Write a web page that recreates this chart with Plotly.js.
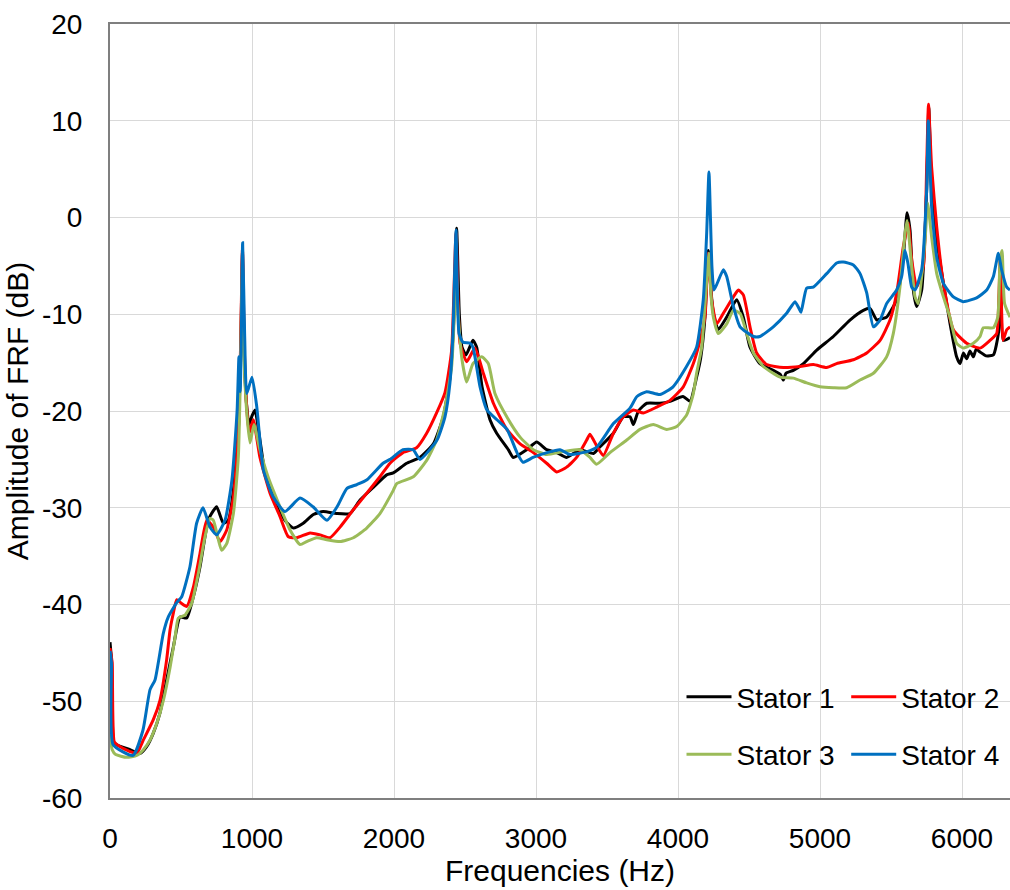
<!DOCTYPE html>
<html>
<head>
<meta charset="utf-8">
<script src="https://cdn.plot.ly/plotly-3.0.1.min.js"></script>
<style>
  html, body { margin: 0; padding: 0; background: #ffffff; }
  #chart { width: 1010px; height: 890px; }
</style>
</head>
<body>
<div id="chart"></div>
<script>
// ---- Data ----
const seriesNames = ["Stator 1", "Stator 2", "Stator 3", "Stator 4"];
const seriesColors = ["#000000", "#FF0000", "#9BBB59", "#0070C0"];

const stator1Freq = [0, 12, 25, 47, 141, 211, 258, 305, 352, 399, 446, 493, 540, 587, 634, 681, 704, 751, 798, 833, 869, 904, 920, 933, 945, 960, 979, 1000, 1021, 1056, 1092, 1150, 1232, 1291, 1361, 1432, 1502, 1596, 1690, 1761, 1854, 1948, 1995, 2089, 2183, 2277, 2347, 2394, 2422, 2441, 2460, 2479, 2507, 2556, 2582, 2620, 2676, 2723, 2805, 2840, 2934, 3005, 3075, 3146, 3216, 3310, 3404, 3451, 3545, 3615, 3662, 3686, 3721, 3780, 3873, 3944, 4035, 4085, 4131, 4160, 4190, 4213, 4235, 4249, 4283, 4343, 4413, 4460, 4507, 4577, 4671, 4720, 4742, 4760, 4812, 4883, 4977, 5094, 5211, 5305, 5352, 5399, 5423, 5469, 5540, 5587, 5613, 5634, 5657, 5681, 5716, 5751, 5766, 5786, 5822, 5869, 5915, 5962, 5986, 6010, 6033, 6056, 6080, 6100, 6127, 6170, 6221, 6256, 6272, 6291, 6338];
const stator1Amp = [-43.9, -46, -54.2, -54.5, -55, -55.4, -54.7, -53.3, -51.2, -47.8, -44.4, -41.3, -41.4, -39.2, -36.1, -32, -30.9, -29.9, -31.6, -31.3, -28.2, -22, -14, -3.4, -14, -19, -21.4, -20.5, -19.9, -23, -26.4, -28.9, -31.3, -32.1, -31.6, -30.7, -30.4, -30.6, -30.6, -29.2, -27.9, -26.6, -26.4, -25.4, -24.8, -23.4, -20.6, -16.5, -10.3, -1.1, -10, -13.4, -14.2, -12.7, -13.4, -17.5, -20.9, -22.3, -24, -24.8, -24, -23.2, -24, -24.3, -24.8, -24, -24.4, -23.7, -22.3, -20.6, -20.6, -21.4, -20, -19.2, -19.2, -19, -18.5, -19, -16.5, -14.5, -10.3, -3.4, -8, -9.9, -11.6, -10.3, -8.5, -10.3, -13.4, -15.1, -15.8, -16.2, -16.8, -16.1, -15.8, -15.1, -13.7, -12.3, -10.6, -9.6, -9.4, -10.6, -10.5, -10.3, -8.5, -4, 0.5, -1.3, -7.5, -9.2, -7.5, 2.8, 11.4, 2.8, -2.3, -6.8, -10.9, -14.4, -15.1, -14, -14.6, -13.8, -14.4, -13.6, -13.9, -14.3, -14.2, -12, -6.1, -12.7, -12.4];

const stator2Freq = [0, 15, 30, 60, 141, 188, 235, 305, 352, 399, 423, 446, 470, 505, 540, 587, 634, 681, 728, 775, 822, 869, 904, 920, 933, 945, 960, 980, 1009, 1056, 1127, 1197, 1256, 1315, 1409, 1479, 1549, 1620, 1714, 1808, 1901, 1972, 2063, 2159, 2230, 2300, 2359, 2406, 2437, 2465, 2512, 2570, 2629, 2700, 2794, 2888, 2981, 3075, 3146, 3216, 3286, 3357, 3380, 3427, 3474, 3545, 3615, 3686, 3756, 3850, 3944, 4037, 4108, 4155, 4190, 4213, 4237, 4272, 4319, 4390, 4425, 4460, 4507, 4554, 4624, 4742, 4859, 4953, 5047, 5117, 5235, 5329, 5423, 5493, 5540, 5587, 5622, 5646, 5681, 5728, 5751, 5764, 5786, 5822, 5869, 5939, 6033, 6127, 6197, 6244, 6260, 6270, 6289, 6315, 6338];
const stator2Amp = [-44.5, -46, -54.2, -54.6, -55.2, -55.4, -54, -51.9, -49.9, -45.7, -42.6, -40.9, -39.5, -39.9, -40.2, -38.2, -34.7, -31.3, -32, -33.5, -32.3, -28.9, -22, -13, -3.2, -13, -19, -22.3, -20.9, -24.8, -28.5, -30.9, -33, -33.1, -32.6, -32.8, -33.1, -32, -30.2, -28.5, -26.8, -25.4, -24.3, -23.8, -22.3, -20.2, -18.1, -13.7, -1.6, -13, -14.9, -13.5, -16.1, -19.2, -21.9, -23.4, -24.3, -25.4, -26.3, -25.8, -24.8, -23, -22.4, -23.6, -24.6, -22.3, -20.6, -19.9, -20.2, -19.6, -18.9, -17.5, -15.1, -12.7, -10.3, -3.7, -8.5, -11, -9.9, -8.2, -7.5, -8, -11.3, -14, -15.2, -15.5, -15.4, -15.2, -15.5, -15.1, -14.7, -14, -12.7, -10.6, -7.8, -3, -0.6, -4.4, -7.2, -5.1, 5.2, 11.7, 5.2, -1, -6.8, -11.6, -13, -13.5, -12.7, -12, -8, -4, -12.7, -11.6, -11.3];

const stator3Freq = [0, 15, 40, 117, 188, 235, 282, 329, 376, 423, 458, 481, 528, 575, 622, 669, 704, 728, 763, 786, 822, 869, 904, 920, 933, 945, 965, 986, 1014, 1056, 1113, 1197, 1268, 1338, 1385, 1455, 1526, 1620, 1714, 1808, 1901, 1995, 2019, 2136, 2230, 2300, 2359, 2406, 2425, 2437, 2452, 2479, 2512, 2556, 2617, 2664, 2711, 2794, 2888, 2981, 3075, 3192, 3310, 3380, 3427, 3521, 3639, 3732, 3826, 3920, 3991, 4061, 4108, 4131, 4167, 4202, 4218, 4232, 4249, 4284, 4343, 4390, 4437, 4484, 4531, 4601, 4719, 4812, 4906, 5000, 5094, 5188, 5282, 5376, 5469, 5516, 5563, 5599, 5613, 5646, 5669, 5692, 5740, 5758, 5786, 5822, 5869, 5915, 5962, 6009, 6080, 6127, 6150, 6221, 6252, 6268, 6282, 6300, 6338];
const stator3Amp = [-53.5, -55, -55.5, -55.8, -55.6, -55, -54, -52.3, -49.9, -46.5, -43.4, -41.4, -41.1, -39.9, -36.8, -33, -31.1, -31.3, -33.3, -34.4, -33.7, -30.6, -24.7, -15, -4.8, -15, -20.5, -23.3, -21.4, -24, -26.8, -29.9, -32.3, -33.8, -33.5, -33.1, -33.3, -33.5, -33.1, -32.1, -30.6, -28.2, -27.5, -26.8, -25.1, -23, -19.6, -15.4, -10, -5.5, -10, -14.7, -17, -15.1, -14.4, -15.1, -18.2, -20.6, -22.7, -24, -24.5, -24.2, -24, -24.8, -25.5, -24.3, -23, -21.9, -21.4, -21.9, -21.6, -20.4, -18.2, -16.1, -13.4, -6.5, -3.7, -8, -10.3, -12, -11, -9.6, -9.9, -12, -14, -15.4, -16.5, -16.6, -17.1, -17.5, -17.6, -17.6, -16.8, -16.1, -14.4, -12, -7.2, -1.6, -0.3, -5.1, -8.2, -8.9, -2.3, 1.5, -2, -5.8, -8.2, -10.3, -13, -13.5, -13, -12.3, -11.4, -11.4, -10.3, -4.4, -3.4, -8.9, -10.3];

const stator4Freq = [0, 10, 22, 162, 232, 282, 317, 375, 410, 470, 505, 563, 610, 655, 704, 751, 810, 859, 895, 908, 917, 925, 934, 948, 963, 1000, 1033, 1080, 1150, 1232, 1338, 1430, 1528, 1599, 1669, 1739, 1810, 1923, 1972, 2063, 2134, 2183, 2303, 2359, 2394, 2415, 2437, 2458, 2486, 2535, 2556, 2606, 2655, 2725, 2796, 2866, 2908, 2979, 3077, 3169, 3239, 3359, 3430, 3545, 3662, 3711, 3779, 3873, 3965, 4060, 4131, 4178, 4202, 4218, 4239, 4254, 4319, 4343, 4390, 4437, 4531, 4577, 4671, 4765, 4824, 4852, 4866, 4906, 4953, 5047, 5117, 5164, 5235, 5282, 5329, 5376, 5423, 5469, 5540, 5575, 5599, 5620, 5646, 5669, 5716, 5751, 5763, 5786, 5822, 5869, 5939, 6009, 6103, 6174, 6221, 6256, 6279, 6315, 6338];
const stator4Amp = [-44.8, -46, -54.5, -55.6, -53, -48.8, -47.8, -43, -41.3, -39.8, -39.2, -36.1, -31.6, -30, -32, -32.8, -31.3, -27.1, -20, -14.4, -18, -12, -2.6, -12, -18.2, -16.5, -19.5, -26.1, -28.9, -30.4, -29, -29.9, -31.3, -29.9, -28, -27.6, -27.1, -25.4, -25, -24, -24, -25, -23, -20.6, -17.1, -12, -1.3, -12, -12.9, -13, -13.4, -17.5, -19.9, -20.9, -21.9, -24.3, -25.3, -24.8, -24.3, -24, -24.5, -24.2, -23.7, -21.3, -19.7, -18.5, -18, -18.3, -17.5, -15.4, -13.4, -8.5, -1.6, 4.7, -5.1, -7.5, -5.4, -6.1, -9.2, -11.3, -12.3, -12.3, -11.3, -9.9, -8.7, -9.4, -9.8, -7.3, -7.2, -5.8, -4.7, -4.6, -4.9, -5.8, -7.8, -11.3, -10.6, -8.9, -7.5, -6.1, -3.4, -4.8, -7.2, -7.5, -5.4, 2.8, 10, 1.1, -4.1, -6.8, -8.2, -8.7, -8.3, -7.5, -6.1, -3.7, -5.4, -7.2, -7.5];

const xTickVals = [0, 1000, 2000, 3000, 4000, 5000, 6000];
const xTickText = ["0", "1000", "2000", "3000", "4000", "5000", "6000"];
const yTickVals = [-60, -50, -40, -30, -20, -10, 0, 10, 20];
const yTickText = ["-60", "-50", "-40", "-30", "-20", "-10", "0", "10", "20"];

// ---- Build traces ----
const freqs = [stator1Freq, stator2Freq, stator3Freq, stator4Freq];
const amps = [stator1Amp, stator2Amp, stator3Amp, stator4Amp];
const legendIds = ["legend", "legend2", "legend3", "legend4"];

const traces = seriesNames.map((name, i) => ({
  x: freqs[i],
  y: amps[i],
  type: "scatter",
  mode: "lines",
  name: name,
  legend: legendIds[i],
  line: { color: seriesColors[i], width: 3, shape: "spline", smoothing: 0.5 }
}));

const FONT = "Liberation Sans, Arial, sans-serif";
const legendFont = { family: FONT, size: 28, color: "#000000" };
function mkLegend(x, y) {
  return {
    x: x, y: y, xanchor: "left", yanchor: "middle",
    xref: "paper", yref: "paper",
    orientation: "h",
    bgcolor: "rgba(0,0,0,0)",
    borderwidth: 0,
    font: legendFont,
    itemwidth: 45,
    tracegroupgap: 0
  };
}

const layout = {
  width: 1010,
  height: 890,
  margin: { l: 110, r: 0, t: 24, b: 92, pad: 0 },
  paper_bgcolor: "#ffffff",
  plot_bgcolor: "#ffffff",
  showlegend: true,
  font: { family: FONT, size: 28, color: "#000000" },
  xaxis: {
    range: [0, 6338],
    tickmode: "array",
    tickvals: xTickVals,
    ticktext: xTickText,
    ticks: "",
    showgrid: true,
    gridcolor: "#D9D9D9",
    gridwidth: 1,
    zeroline: false,
    showline: true,
    linecolor: "#7F7F7F",
    linewidth: 2,
    mirror: true,
    tickfont: { family: FONT, size: 28, color: "#000000" },
    ticklabelstandoff: 14,
    title: { text: "Frequencies (Hz)", font: { family: FONT, size: 30, color: "#000000" }, standoff: 6 },
    automargin: false,
    fixedrange: true
  },
  yaxis: {
    range: [-60, 20],
    tickmode: "array",
    tickvals: yTickVals,
    ticktext: yTickText,
    ticks: "",
    showgrid: true,
    gridcolor: "#D9D9D9",
    gridwidth: 1,
    zeroline: false,
    showline: true,
    linecolor: "#7F7F7F",
    linewidth: 2,
    mirror: false,
    tickfont: { family: FONT, size: 28, color: "#000000" },
    ticklabelstandoff: 20,
    title: { text: "Amplitude of FRF (dB)", font: { family: FONT, size: 30, color: "#000000" }, standoff: 4 },
    automargin: false,
    fixedrange: true
  },
  legend: mkLegend(0.635, 0.1305),
  legend2: mkLegend(0.818, 0.1305),
  legend3: mkLegend(0.635, 0.056),
  legend4: mkLegend(0.818, 0.056)
};

Plotly.newPlot("chart", traces, layout, { displayModeBar: false, staticPlot: true });
</script>
</body>
</html>
